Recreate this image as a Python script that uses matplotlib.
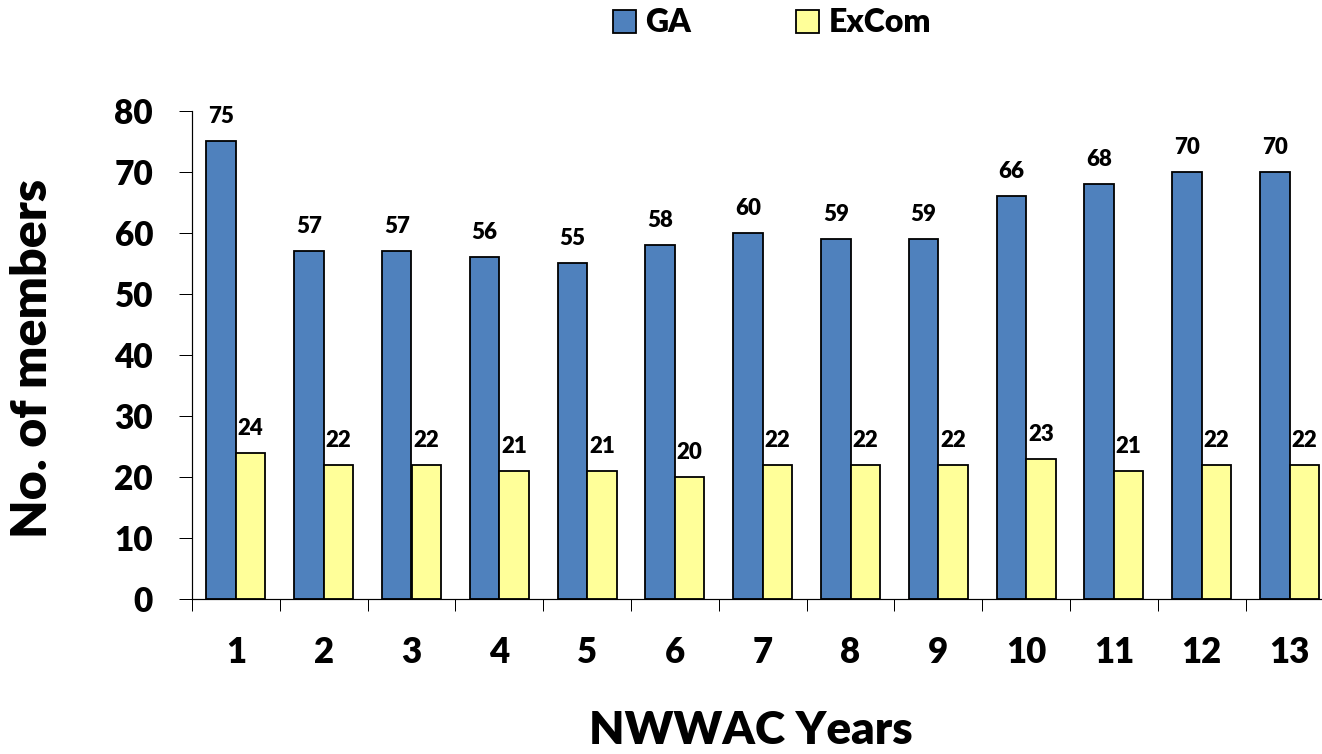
import matplotlib
matplotlib.use("Agg")
import matplotlib.pyplot as plt
import numpy as np
from matplotlib.patches import Patch

years = [str(i) for i in range(1, 14)]
ga = [75, 57, 57, 56, 55, 58, 60, 59, 59, 66, 68, 70, 70]
excom = [24, 22, 22, 21, 21, 20, 22, 22, 22, 23, 21, 22, 22]
yticks = [0, 10, 20, 30, 40, 50, 60, 70, 80]

plt.rcParams['font.family'] = ['Lato', 'DejaVu Sans']
plt.rcParams['font.weight'] = 'heavy'
WT = 'heavy'

W, H = 1322, 754
PX = 72 / 100  # points per pixel
fig = plt.figure(figsize=(W / 100, H / 100), dpi=100)
ax = fig.add_axes([192 / W, 155 / H, 13 * 87.8 / W, 488 / H])

x = np.arange(len(years))
bw = 0.336
ax.bar(x - bw / 2, ga, bw, color='#4F81BD', edgecolor='black', linewidth=1.3, label='GA')
ax.bar(x + bw / 2, excom, bw, color='#FFFF99', edgecolor='black', linewidth=1.3, label='ExCom')

for xi, v in zip(x, ga):
    ax.text(xi - bw / 2, v + 2.3, str(v), ha='center', va='bottom', fontsize=16, fontweight=WT)
for xi, v in zip(x, excom):
    ax.text(xi + bw / 2, v + 2.3, str(v), ha='center', va='bottom', fontsize=16, fontweight=WT)

ax.set_xlim(-0.5, len(years) - 0.5)
ax.set_ylim(0, 80)
ax.set_yticks(yticks)
ax.set_yticklabels([str(t) for t in yticks], fontsize=24, fontweight=WT)
ax.tick_params(axis='y', length=13 * PX, width=1 * PX, pad=26 * PX, direction='out')
ax.set_xticks(x)
ax.set_xticklabels(years, fontsize=25, fontweight=WT)
ax.set_xticks(np.arange(-0.5, len(years), 1), minor=True)
ax.tick_params(axis='x', which='major', length=0, pad=37 * PX)
ax.tick_params(axis='x', which='minor', length=12 * PX, width=1 * PX, direction='out')

for s in ['top', 'right']:
    ax.spines[s].set_visible(False)
for s in ['left', 'bottom']:
    ax.spines[s].set_linewidth(1.2 * PX)

fig.text(33 / W, 1 - 358 / H, 'No. of members', rotation=90, ha='center', va='center',
         fontsize=36, fontweight=WT)
fig.text(751 / W, 1 - 730 / H, 'NWWAC Years', ha='center', va='center',
         fontsize=33, fontweight=WT)

handles = [Patch(facecolor='#4F81BD', edgecolor='black', linewidth=1.3),
           Patch(facecolor='#FFFF99', edgecolor='black', linewidth=1.3)]
fig.legend(handles, ['GA', 'ExCom'], loc='center', bbox_to_anchor=(772 / W, 1 - 23 / H),
           ncol=2, frameon=False, prop={'weight': WT, 'size': 23},
           handlelength=0.72, handleheight=0.72, handletextpad=0.3, columnspacing=3.3)

fig.savefig('out.png', dpi=100)
